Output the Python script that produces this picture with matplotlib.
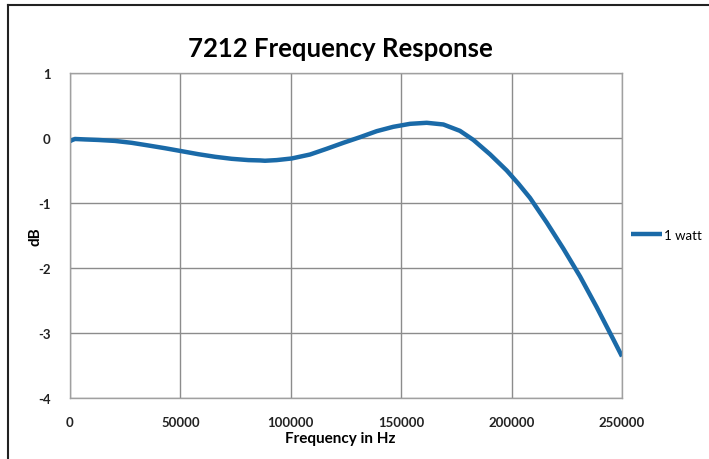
import matplotlib
matplotlib.use("Agg")
import matplotlib.pyplot as plt
from matplotlib.lines import Line2D

# Data
freq_hz = [0, 770, 2260, 6790, 12800, 20400, 27900, 35500, 43000, 50600,
           58100, 65700, 73200, 80800, 86050, 88300, 93600, 100400, 108700,
           116250, 123800, 131300, 138900, 146400, 154000, 161550, 169100,
           176600, 182700, 190200, 197800, 203000, 208300, 215900, 223400,
           231000, 238500, 246100, 250000]
response_db = [-0.05, -0.034, -0.015, -0.022, -0.03, -0.045, -0.074, -0.115, -0.157, -0.203,
               -0.249, -0.289, -0.32, -0.34, -0.345, -0.35, -0.34, -0.315, -0.254,
               -0.166, -0.074, 0.012, 0.105, 0.172, 0.218, 0.234, 0.208,
               0.11, -0.03, -0.25, -0.50, -0.70, -0.92, -1.30, -1.70,
               -2.13, -2.60, -3.10, -3.36]
series_name = "1 watt"
title = "7212 Frequency Response"
x_ticks = [0, 50000, 100000, 150000, 200000, 250000]
y_ticks = [1, 0, -1, -2, -3, -4]

plt.rcParams['font.family'] = ['Lato', 'DejaVu Sans']

W, H = 709, 460
fig = plt.figure(figsize=(W / 100, H / 100), dpi=100)
ax = fig.add_axes([70 / W, 1 - 399 / H, (622 - 70) / W, (399 - 74) / H])

ax.plot(freq_hz, response_db, color='#1a6aa8', lw=3.2, solid_capstyle='butt',
        solid_joinstyle='round', label=series_name)
ax.set_xlim(0, 250000)
ax.set_ylim(-4, 1)
ax.set_xticks(x_ticks)
ax.set_yticks(y_ticks)
ax.set_xticklabels([str(t) for t in x_ticks])
ax.set_yticklabels([str(t) for t in y_ticks])
ax.grid(True, color='#8c8c8c', lw=1.0)
ax.set_axisbelow(True)
for s in ax.spines.values():
    s.set_color('#a0a0a0')
    s.set_linewidth(1.0)
ax.tick_params(length=0, labelsize=9.5, colors='#222222')
for lab in ax.get_xticklabels() + ax.get_yticklabels():
    lab.set_fontweight('bold')
ax.tick_params(axis='y', pad=14)
ax.tick_params(axis='x', pad=13)

ax.set_xlabel("Frequency in Hz", fontsize=11, fontweight='bold')
ax.xaxis.set_label_coords((340 - 70) / 552, (399 - 432) / 325)
ax.set_ylabel("dB", fontsize=11, fontweight='bold')
ax.yaxis.set_label_coords((42 - 70) / 552, 0.5)
fig.text(340 / W, 1 - 49 / H, title, fontsize=18.5, fontweight='bold',
         ha='center', va='center')

leg = ax.legend(loc='center left', bbox_to_anchor=(1.0, (236 - 399) / (74 - 399)),
                frameon=False, fontsize=9.5, handlelength=2.3, handletextpad=0.2,
                borderaxespad=0.3)

# outer frame (partially visible, like the reference crop)
fig.add_artist(Line2D([8 / W, 1.0], [1 - 6 / H, 1 - 6 / H], transform=fig.transFigure,
                      color='#222222', lw=1.5))
fig.add_artist(Line2D([8 / W, 8 / W], [0, 1 - 6 / H], transform=fig.transFigure,
                      color='#222222', lw=1.5))

fig.savefig("out.png", dpi=100)
